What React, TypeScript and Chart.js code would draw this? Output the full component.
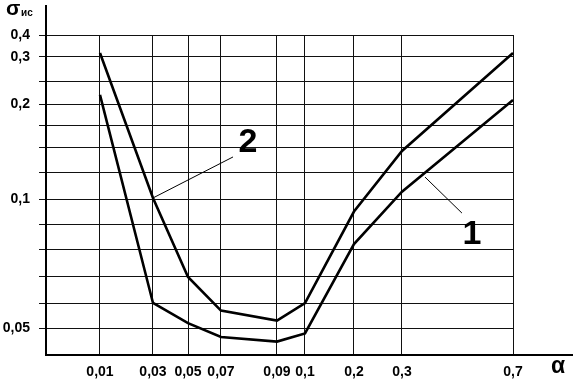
import React, { useEffect, useRef } from 'react';
import { Chart, registerables, LinearScale } from 'chart.js';

// ---- data ----
const alpha = [0.01, 0.03, 0.05, 0.07, 0.09, 0.1, 0.2, 0.3, 0.7];
const sigma1 = [0.22, 0.06, 0.052, 0.0467, 0.045, 0.048, 0.082, 0.107, 0.209];
const sigma2 = [0.318, 0.101, 0.07, 0.057, 0.053, 0.06, 0.095, 0.147, 0.318];
const xTickValues = [0.01, 0.03, 0.05, 0.07, 0.09, 0.1, 0.2, 0.3, 0.7];
const yGridValues = [0.4, 0.3, 0.25, 0.2, 0.175, 0.15, 0.125, 0.1, 0.09, 0.08, 0.07, 0.06, 0.05];
const yTickLabels = [0.4, 0.3, 0.2, 0.1, 0.05];

// ---- non-uniform axis definitions: [value, fraction along axis] ----
const X_KNOTS = [
  [0, 0], [0.01, 0.1156], [0.03, 0.2291], [0.05, 0.3041], [0.07, 0.3747],
  [0.09, 0.4946], [0.1, 0.5546], [0.2, 0.6595], [0.3, 0.7623], [0.7, 1],
];
const Y_KNOTS = [
  [0.04, 0], [0.05, 0.084], [0.06, 0.1625], [0.07, 0.244], [0.08, 0.331],
  [0.09, 0.409], [0.1, 0.4875], [0.125, 0.569], [0.15, 0.647], [0.175, 0.71875],
  [0.2, 0.784], [0.25, 0.85625], [0.3, 0.93125], [0.4, 1],
];
const KNOTS: Record<string, number[][]> = { x: X_KNOTS, y: Y_KNOTS };
const GRID: Record<string, number[]> = { x: xTickValues, y: yGridValues };

class PiecewiseScale extends LinearScale {
  static id = 'piecewise';
  static defaults = {};
  knotList(): number[][] {
    return KNOTS[(this as any).id];
  }
  determineDataLimits() {
    const k = this.knotList();
    (this as any).min = k[0][0];
    (this as any).max = k[k.length - 1][0];
  }
  buildTicks() {
    return GRID[(this as any).id].map((v) => ({ value: v }));
  }
  toDecimal(v: number) {
    const k = this.knotList();
    if (v <= k[0][0]) {
      const [a, fa] = k[0], [b, fb] = k[1];
      return fa + ((v - a) / (b - a)) * (fb - fa);
    }
    for (let i = 1; i < k.length; i++) {
      if (v <= k[i][0] || i === k.length - 1) {
        const [a, fa] = k[i - 1], [b, fb] = k[i];
        return fa + ((v - a) / (b - a)) * (fb - fa);
      }
    }
    return 1;
  }
  fromDecimal(d: number) {
    const k = this.knotList();
    for (let i = 1; i < k.length; i++) {
      if (d <= k[i][1] || i === k.length - 1) {
        const [a, fa] = k[i - 1], [b, fb] = k[i];
        return a + ((d - fa) / (fb - fa)) * (b - a);
      }
    }
    return k[k.length - 1][0];
  }
  getPixelForValue(value: any) {
    if (value === null || value === undefined || isNaN(value)) return NaN;
    return (this as any).getPixelForDecimal(this.toDecimal(value));
  }
  getValueForPixel(pixel: number) {
    return this.fromDecimal((this as any).getDecimalForPixel(pixel));
  }
}

Chart.register(...registerables, PiecewiseScale as any);

// annotation anchors in data space [alpha, sigma]
const label2Line = [[0.03, 0.101], [0.0743, 0.141]];
const label2Pos = [0.0796, 0.1554];
const label1Line = [[0.383, 0.121], [0.516, 0.0944]];
const label1Pos = [0.552, 0.0856];

const fmt = (v: number) => String(v).replace('.', ',');
const FONT = '"Liberation Sans", Arial, sans-serif';

const decorPlugin = {
  id: 'decor',
  afterDraw(chart: any) {
    const { ctx, chartArea, scales } = chart;
    const xs = scales.x, ys = scales.y;
    ctx.save();
    ctx.strokeStyle = '#000';
    ctx.lineWidth = 2;
    ctx.beginPath();
    ctx.moveTo(chartArea.left, chartArea.top);
    ctx.lineTo(chartArea.left, 5);
    ctx.moveTo(chartArea.right, chartArea.bottom);
    ctx.lineTo(573, chartArea.bottom);
    ctx.stroke();

    // pointer lines
    ctx.lineWidth = 1;
    ctx.beginPath();
    for (const seg of [label2Line, label1Line]) {
      ctx.moveTo(xs.getPixelForValue(seg[0][0]), ys.getPixelForValue(seg[0][1]));
      ctx.lineTo(xs.getPixelForValue(seg[1][0]), ys.getPixelForValue(seg[1][1]));
    }
    ctx.stroke();

    ctx.fillStyle = '#000';
    ctx.textAlign = 'center';
    ctx.textBaseline = 'middle';
    ctx.font = `bold 34px ${FONT}`;
    ctx.fillText('2', xs.getPixelForValue(label2Pos[0]), ys.getPixelForValue(label2Pos[1]));
    ctx.fillText('1', xs.getPixelForValue(label1Pos[0]), ys.getPixelForValue(label1Pos[1]));

    // axis titles
    ctx.textAlign = 'left';
    ctx.textBaseline = 'alphabetic';
    ctx.font = `bold 21px ${FONT}`;
    ctx.fillText('σ', 6, 15);
    ctx.font = `bold 10px ${FONT}`;
    ctx.fillText('ис', 21, 16);
    ctx.font = `bold 23px ${FONT}`;
    ctx.textAlign = 'center';
    ctx.fillText('α', 558, 373);
    ctx.restore();
  },
};

export default function App() {
  const ref = useRef<HTMLCanvasElement>(null);
  useEffect(() => {
    document.body.style.margin = '0';
    const chart = new Chart(ref.current as HTMLCanvasElement, {
      type: 'line',
      data: {
        datasets: [
          {
            label: '1',
            data: alpha.map((a, i) => ({ x: a, y: sigma1[i] })),
            borderColor: '#000',
            borderWidth: 2.6,
            pointRadius: 0,
            tension: 0,
          },
          {
            label: '2',
            data: alpha.map((a, i) => ({ x: a, y: sigma2[i] })),
            borderColor: '#000',
            borderWidth: 2.6,
            pointRadius: 0,
            tension: 0,
          },
        ],
      },
      options: {
        animation: false,
        responsive: false,
        maintainAspectRatio: false,
        layout: { padding: { top: 35, right: 68, left: 0, bottom: 0 } },
        plugins: { legend: { display: false }, tooltip: { enabled: false } },
        scales: {
          x: {
            type: 'piecewise' as any,
            afterFit: (s: any) => { s.height = 25; },
            grid: { color: '#111', lineWidth: 1, drawTicks: false },
            border: { color: '#000', width: 2 },
            ticks: {
              autoSkip: false,
              maxRotation: 0,
              padding: 9,
              color: '#000',
              font: { family: FONT, size: 14, weight: 'bold' },
              callback: (v: any) => fmt(Number(v)),
            },
          },
          y: {
            type: 'piecewise' as any,
            afterFit: (s: any) => { s.width = 46; },
            grid: { color: '#111', lineWidth: 1, drawTicks: true, tickLength: 7 },
            border: { color: '#000', width: 2 },
            ticks: {
              autoSkip: false,
              padding: 9,
              color: '#000',
              font: { family: FONT, size: 14, weight: 'bold' },
              callback: (v: any) => (yTickLabels.includes(Number(v)) ? fmt(Number(v)) : ''),
            },
          },
        } as any,
      },
      plugins: [decorPlugin],
    });
    return () => chart.destroy();
  }, []);
  return <canvas ref={ref} width={581} height={380} style={{ display: 'block' }} />;
}
